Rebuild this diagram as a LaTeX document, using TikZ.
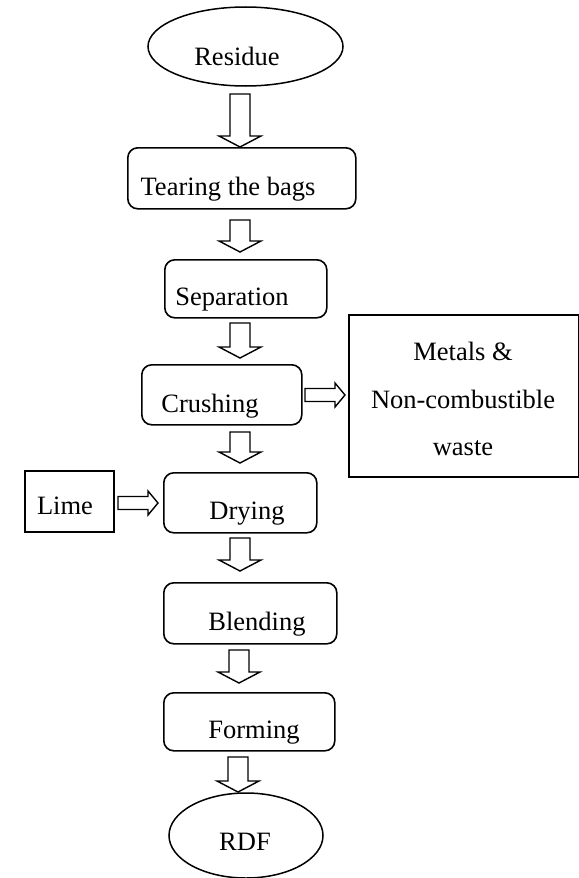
\documentclass[tikz,border=0pt]{standalone}
\usepackage{fontspec}
\setmainfont{Liberation Serif}
\usetikzlibrary{calc,shapes.geometric}

\tikzset{
  stage/.style={draw, line width=1.6bp, rounded corners=10bp, inner sep=0pt, anchor=north west},
  plainbox/.style={draw, line width=1.6bp, inner sep=0pt, anchor=north west},
  terminal/.style={draw, ellipse, line width=1.5bp, inner sep=0pt},
  txt/.style={anchor=base, inner sep=0pt, font=\fontsize{26.5bp}{30bp}\selectfont},
  blockarrow/.style n args={3}{draw, line width=1.4bp, line join=miter, to path={
    ($(\tikztostart)!#1!90:(\tikztotarget)$)
    -- ($(\tikztotarget)!#3!(\tikztostart)!#1!90:(\tikztotarget)$)
    -- ($(\tikztotarget)!#3!(\tikztostart)!#2!90:(\tikztotarget)$)
    -- (\tikztotarget)
    -- ($(\tikztotarget)!#3!(\tikztostart)!#2!-90:(\tikztotarget)$)
    -- ($(\tikztotarget)!#3!(\tikztostart)!#1!-90:(\tikztotarget)$)
    -- ($(\tikztostart)!#1!-90:(\tikztotarget)$) -- cycle}},
  downarrow/.style={blockarrow={10bp}{21bp}{11bp}},
  sidearrow/.style={blockarrow={6.5bp}{12bp}{10bp}}
}

\begin{document}
\begin{tikzpicture}[x=1bp,y=-1bp]
  \useasboundingbox (0,0) rectangle (579,878);
  % draw stages
  \node[terminal, minimum width=195bp, minimum height=79bp] (res) at (245.5,46.5) {};
  \node[stage, minimum width=228bp, minimum height=61bp] (tear) at (127,147) {};
  \node[stage, minimum width=162bp, minimum height=58bp] (sep) at (164,259) {};
  \node[stage, minimum width=160bp, minimum height=60bp] (crush) at (141,364) {};
  \node[plainbox, minimum width=230bp, minimum height=162bp] (metal) at (348,314) {};
  \node[plainbox, minimum width=89bp, minimum height=61bp] (lime) at (24,470) {};
  \node[stage, minimum width=153bp, minimum height=60bp] (dry) at (163,472) {};
  \node[stage, minimum width=173bp, minimum height=61bp] (blend) at (163,582) {};
  \node[stage, minimum width=171bp, minimum height=58bp] (form) at (163,692) {};
  \node[terminal, minimum width=154bp, minimum height=85bp] (rdf) at (246,835.5) {};
  % draw labels
  \node[txt] (reslbl) at (237,65) {Residue};
  \node[txt] (tearlbl) at (228,195) {Tearing the bags};
  \node[txt] (seplbl) at (232,305) {Separation};
  \node[txt] (crushlbl) at (210,412) {Crushing};
  \node[txt] (metallbla) at (463,360) {Metals \&};
  \node[txt] (metallblb) at (463,408) {Non-combustible};
  \node[txt] (metallblc) at (463,455) {waste};
  \node[txt] (limelbl) at (65,514) {Lime};
  \node[txt] (drylbl) at (247,519) {Drying};
  \node[txt] (blendlbl) at (257,630) {Blending};
  \node[txt] (formlbl) at (254,738) {Forming};
  \node[txt] (rdflbl) at (245,850) {RDF};
  % arrow ends
  \coordinate (a1s) at (240,94);  \coordinate (a1e) at (240,147);
  \coordinate (a2s) at (240,220); \coordinate (a2e) at (240,252);
  \coordinate (a3s) at (240,323); \coordinate (a3e) at (240,358);
  \coordinate (a4s) at (240,432); \coordinate (a4e) at (240,463);
  \coordinate (a5s) at (240,538); \coordinate (a5e) at (240,571);
  \coordinate (a6s) at (239,650); \coordinate (a6e) at (239,683);
  \coordinate (a7s) at (238,757); \coordinate (a7e) at (238,792);
  \coordinate (ms) at (305,395);  \coordinate (me) at (345,395);
  \coordinate (ls) at (118,503);  \coordinate (le) at (158,503);
  % draw arrows
  \draw[downarrow] (a1s) to (a1e);
  \draw[downarrow] (a2s) to (a2e);
  \draw[downarrow] (a3s) to (a3e);
  \draw[downarrow] (a4s) to (a4e);
  \draw[downarrow] (a5s) to (a5e);
  \draw[downarrow] (a6s) to (a6e);
  \draw[downarrow] (a7s) to (a7e);
  \draw[sidearrow] (ms) to (me);
  \draw[sidearrow] (ls) to (le);
\end{tikzpicture}
\end{document}
